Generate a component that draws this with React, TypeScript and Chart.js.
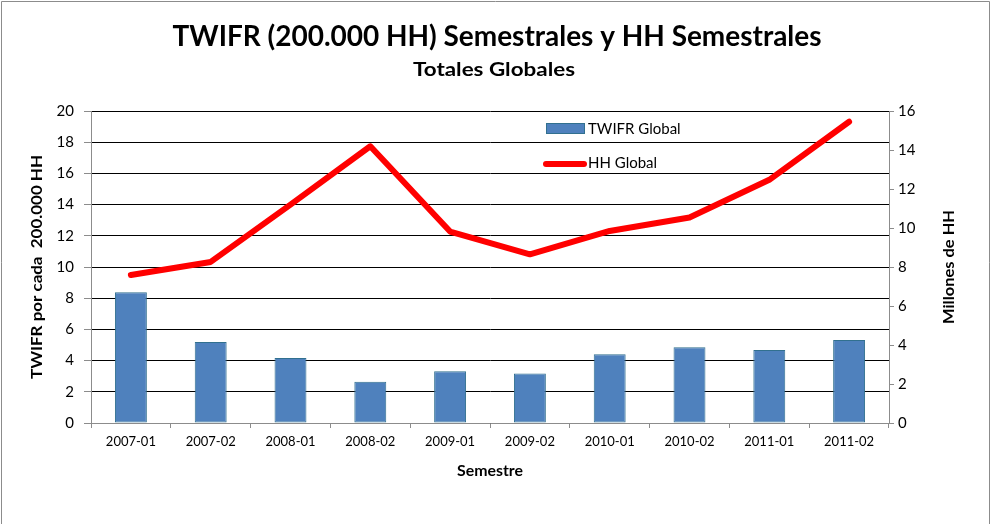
import React, { useEffect, useRef } from "react";
import { Chart, registerables } from "chart.js";

Chart.register(...registerables);

const labels = ["2007-01", "2007-02", "2008-01", "2008-02", "2009-01", "2009-02", "2010-01", "2010-02", "2011-01", "2011-02"];
const twifrGlobal = [8.38, 5.19, 4.17, 2.65, 3.31, 3.18, 4.4, 4.85, 4.68, 5.32];
const hhGlobal = [7.59, 8.26, 11.2, 14.19, 9.82, 8.65, 9.85, 10.54, 12.47, 15.45];

const titleText = "TWIFR (200.000 HH) Semestrales y HH Semestrales";
const subtitleText = "Totales Globales";
const leftTitle = "TWIFR por cada  200.000 HH";
const rightTitle = "Millones de HH";
const xTitle = "Semestre";
const legendLabels = ["TWIFR Global", "HH Global"];

const FONT = "Lato, 'Open Sans', sans-serif";
const BAR_FILL = "#4F81BD";
const BAR_BORDER = "#31708F";
const LINE_RED = "#FF0000";

function fitText(ctx: CanvasRenderingContext2D, text: string, x: number, y: number, width: number | null) {
  const w = ctx.measureText(text).width;
  ctx.save();
  ctx.translate(x, y);
  if (width && w > 0) ctx.scale(width / w, 1);
  ctx.fillText(text, 0, 0);
  ctx.restore();
}

const decorPlugin = {
  id: "decor",
  beforeDraw(chart: any) {
    const ctx = chart.ctx as CanvasRenderingContext2D;
    ctx.save();
    ctx.fillStyle = "#ffffff";
    ctx.fillRect(0, 0, chart.width, chart.height);
    ctx.strokeStyle = "#8c8c8c";
    ctx.lineWidth = 1;
    ctx.beginPath();
    ctx.moveTo(1.5, 524);
    ctx.lineTo(1.5, 1.5);
    ctx.lineTo(989.5, 1.5);
    ctx.lineTo(989.5, 524);
    ctx.stroke();
    ctx.restore();
  },
  afterDraw(chart: any) {
    const ctx = chart.ctx as CanvasRenderingContext2D;
    const a = chart.chartArea;
    ctx.save();
    ctx.fillStyle = "#000000";
    ctx.textAlign = "center";
    ctx.textBaseline = "middle";
    ctx.font = `bold 28px ${FONT}`;
    fitText(ctx, titleText, 497, 37, 649);
    ctx.font = `bold 18px ${FONT}`;
    fitText(ctx, subtitleText, 494, 70, 162);

    const midY = (a.top + a.bottom) / 2;
    ctx.font = `bold 15px ${FONT}`;
    ctx.save();
    ctx.translate(37, midY);
    ctx.rotate(-Math.PI / 2);
    fitText(ctx, leftTitle, 0, 0, 224);
    ctx.restore();

    ctx.save();
    ctx.translate(949, midY);
    ctx.rotate(-Math.PI / 2);
    fitText(ctx, rightTitle, 0, 0, 114);
    ctx.restore();

    ctx.font = `bold 15px ${FONT}`;
    fitText(ctx, xTitle, 490, 471, 66);

    // legend
    ctx.fillStyle = BAR_FILL;
    ctx.fillRect(546, 123, 39, 11);
    ctx.strokeStyle = BAR_BORDER;
    ctx.lineWidth = 1;
    ctx.strokeRect(546.5, 123.5, 38, 10);
    ctx.strokeStyle = LINE_RED;
    ctx.lineWidth = 6;
    ctx.lineCap = "round";
    ctx.beginPath();
    ctx.moveTo(546, 164);
    ctx.lineTo(584, 164);
    ctx.stroke();
    ctx.fillStyle = "#000000";
    ctx.textAlign = "left";
    ctx.font = `15px ${FONT}`;
    ctx.fillText(legendLabels[0], 588, 129);
    ctx.fillText(legendLabels[1], 588, 163);
    ctx.restore();
  },
};

export default function App() {
  const ref = useRef<HTMLCanvasElement | null>(null);
  useEffect(() => {
    if (!ref.current) return;
    const chart = new Chart(ref.current, {
      type: "bar",
      data: {
        labels,
        datasets: [
          {
            type: "line",
            label: legendLabels[1],
            data: hhGlobal,
            yAxisID: "y2",
            borderColor: LINE_RED,
            backgroundColor: LINE_RED,
            borderWidth: 6,
            pointRadius: 0,
            tension: 0,
            borderJoinStyle: "round",
            borderCapStyle: "round",
            order: 0,
          } as any,
          {
            type: "bar",
            label: legendLabels[0],
            data: twifrGlobal,
            yAxisID: "y",
            backgroundColor: BAR_FILL,
            borderColor: BAR_BORDER,
            borderWidth: 1,
            borderSkipped: false,
            barPercentage: 0.8,
            categoryPercentage: 0.5,
            order: 1,
          } as any,
        ],
      },
      options: {
        responsive: false,
        animation: false,
        devicePixelRatio: 1,
        layout: { padding: { top: 111, left: 0, right: 0, bottom: 0 } },
        plugins: {
          legend: { display: false },
          title: { display: false },
          tooltip: { enabled: false },
        },
        scales: {
          x: {
            offset: true,
            grid: {
              offset: true,
              drawOnChartArea: false,
              tickLength: 5,
              tickColor: "#8c8c8c",
            },
            border: { color: "#8c8c8c" },
            ticks: {
              color: "#000",
              font: { family: FONT, size: 13 },
              padding: 6,
              maxRotation: 0,
              autoSkip: false,
            },
            afterFit: (s: any) => {
              s.height = 101;
            },
          },
          y: {
            position: "left",
            min: 0,
            max: 20,
            ticks: {
              stepSize: 2,
              color: "#000",
              font: { family: FONT, size: 15 },
              padding: 10,
            },
            grid: {
              color: "#000000",
              tickColor: "#8c8c8c",
              tickLength: 7,
              lineWidth: 1,
            },
            border: { color: "#8c8c8c" },
            afterFit: (s: any) => {
              s.width = 91;
            },
          },
          y2: {
            position: "right",
            min: 0,
            max: 16,
            ticks: {
              stepSize: 2,
              color: "#000",
              font: { family: FONT, size: 15 },
              padding: 4,
            },
            grid: {
              drawOnChartArea: false,
              tickColor: "#8c8c8c",
              tickLength: 5,
            },
            border: { color: "#8c8c8c" },
            afterFit: (s: any) => {
              s.width = 103;
            },
          },
        },
      },
      plugins: [decorPlugin],
    });
    return () => chart.destroy();
  }, []);
  return (
    <div style={{ position: "absolute", left: 0, top: 0, width: 992, height: 524 }}>
      <canvas ref={ref} width={992} height={524} style={{ width: 992, height: 524, display: "block" }} />
    </div>
  );
}
